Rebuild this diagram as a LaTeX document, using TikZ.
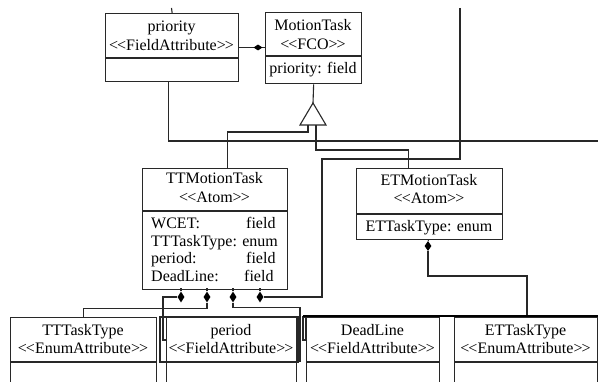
\documentclass[tikz,border=0pt]{standalone}
\usepackage{fontspec}
\setmainfont{Liberation Serif}
\usetikzlibrary{shapes.geometric}
\definecolor{lc}{RGB}{40,40,40}
\newcommand\stereo[1]{<\kern-1pt<#1>\kern-1pt>}
\begin{document}
\begin{tikzpicture}[x=1pt,y=-1pt,
  box/.style={draw=lc, line width=1.3pt, inner sep=0pt, anchor=north west},
  bline/.style={draw=lc, line width=1.3pt},
  conn/.style={draw=lc, line width=1.1pt},
  lbl/.style={inner sep=0pt, anchor=base, font=\fontsize{16}{18}\selectfont},
  lblw/.style={lbl, anchor=base west},
  dia/.style={diamond, fill=black, inner sep=0pt, minimum width=7pt, minimum height=11pt},
  diah/.style={diamond, fill=black, inner sep=0pt, minimum width=9pt, minimum height=6pt}]
\useasboundingbox (0,0) rectangle (598,382);
\clip (0,0) rectangle (598,382);
\fill[white] (0,0) rectangle (598,382);

% ---------- boxes ----------
\node[box, minimum width=133pt, minimum height=68pt] (prio) at (105,13) {};
\draw[bline] ([yshift=-45pt]prio.north west) -- ([yshift=-45pt]prio.north east);
\node[lbl] (prio1) at (171.5,32) {priority};
\node[lbl] (prio2) at (171.5,51) {\stereo{FieldAttribute}};

\node[box, minimum width=96pt, minimum height=71pt] (motion) at (265,12) {};
\draw[bline] ([yshift=-44pt]motion.north west) -- ([yshift=-44pt]motion.north east);
\node[lbl] (mot1) at (313,31) {MotionTask};
\node[lbl] (mot2) at (313,50) {\stereo{FCO}};
\node[lbl] (mot3) at (313,74) {priority: field};

\node[box, minimum width=145pt, minimum height=121pt] (ttm) at (142,168) {};
\draw[bline] ([yshift=-43pt]ttm.north west) -- ([yshift=-43pt]ttm.north east);
\node[lbl] (ttm1) at (214.5,184) {TTMotionTask};
\node[lbl] (ttm2) at (214.5,203) {\stereo{Atom}};
\node[lblw] (ttma) at (151,229) {WCET:};
\node[lblw] (ttmav) at (246,229) {field};
\node[lblw] (ttmb) at (151,247) {TTTaskType: enum};
\node[lblw] (ttmc) at (151,264) {period:};
\node[lblw] (ttmcv) at (246,264) {field};
\node[lblw] (ttmd) at (151,282) {DeadLine:};
\node[lblw] (ttmdv) at (244,282) {field};

\node[box, minimum width=146pt, minimum height=71pt] (etm) at (356,168) {};
\draw[bline] ([yshift=-46pt]etm.north west) -- ([yshift=-46pt]etm.north east);
\node[lbl] (etm1) at (429,186) {ETMotionTask};
\node[lbl] (etm2) at (429,204) {\stereo{Atom}};
\node[lbl] (etm3) at (429,232) {ETTaskType: enum};

\node[box, minimum width=146pt, minimum height=80pt] (tttype) at (10,317) {};
\draw[bline] ([yshift=-45pt]tttype.north west) -- ([yshift=-45pt]tttype.north east);
\node[lbl] (tt1) at (83,336) {TTTaskType};
\node[lbl] (tt2) at (83,354) {\stereo{EnumAttribute}};

\draw[bline] (160,317) rectangle (298,362);
\node[box, minimum width=130pt, minimum height=80pt] (period) at (166,317) {};
\draw[bline] ([yshift=-45pt]period.north west) -- ([yshift=-45pt]period.north east);
\node[lbl] (pe1) at (231,336) {period};
\node[lbl] (pe2) at (231,354) {\stereo{FieldAttribute}};

\draw[bline] (303,317) rectangle (306,340);
\node[box, minimum width=133pt, minimum height=80pt] (dead) at (306,317) {};
\draw[bline] ([yshift=-45pt]dead.north west) -- ([yshift=-45pt]dead.north east);
\node[lbl] (de1) at (372.5,336) {DeadLine};
\node[lbl] (de2) at (372.5,354) {\stereo{FieldAttribute}};

\node[box, minimum width=143pt, minimum height=80pt] (ettype) at (454,317) {};
\draw[bline] ([yshift=-45pt]ettype.north west) -- ([yshift=-45pt]ettype.north east);
\node[lbl] (et1) at (525.5,336) {ETTaskType};
\node[lbl] (et2) at (525.5,354) {\stereo{EnumAttribute}};

% ---------- coordinates ----------
\coordinate (top0) at (171.5,8);
\coordinate (top1) at (460,8);
\coordinate (redge) at (600,141);
\coordinate (apex) at (313,103);
\coordinate (tb1) at (308,125);
\coordinate (tb2) at (316,125);
\coordinate (e1) at (166,340);
\coordinate (e7) at (300,362);
\coordinate (thk1) at (303,316);
\coordinate (thk2) at (600,316);
\coordinate (etl) at (527,316);

% ---------- connectors ----------
\draw[conn] (top0) -- (prio.north);
\draw[conn] ([yshift=-34.5pt]prio.north east) -- ([yshift=-35.5pt]motion.north west);
\node[diah] (dh) at (258,47.5) {};

\draw[conn] (motion.south) -- (apex);
\draw[conn, fill=white] (apex) -- ++(-13,22) -- ++(26,0) -- cycle;

\draw[conn] ([xshift=12.5pt]ttm.north) -- ++(0,-36) -| (tb1);
\draw[conn] ([xshift=-21pt]etm.north) -- ++(0,-18) -| (tb2);
\draw[conn] ([xshift=-3.5pt]prio.south) |- (redge);

\node[dia] (d1) at (181,297) {};
\node[dia] (d2) at (207,297) {};
\node[dia] (d3) at (233,297) {};
\node[dia] (d4) at (260,297) {};
\foreach \d in {d1,d2,d3,d4} \draw[conn] (\d.north) -- ++(0,-3);

\draw[conn] (top1) |- (322,159) |- (d4.east);
\draw[conn] (d1.west) -| (163,340) -- (e1);
\draw[conn] (d2.south) -- ++(0,5.5) -| (tttype.north);
\draw[conn] (d3.south) -- ++(0,4.5) -| (e7);

\node[dia, minimum height=10pt] (d5) at (428,246) {};
\draw[conn] ([xshift=-1pt]etm.south) -- (d5.north);
\draw[conn] (d5.south) |- (470,276) -| (etl);

\draw[draw=black, line width=2pt] (thk1) -- (thk2);
\end{tikzpicture}
\end{document}
